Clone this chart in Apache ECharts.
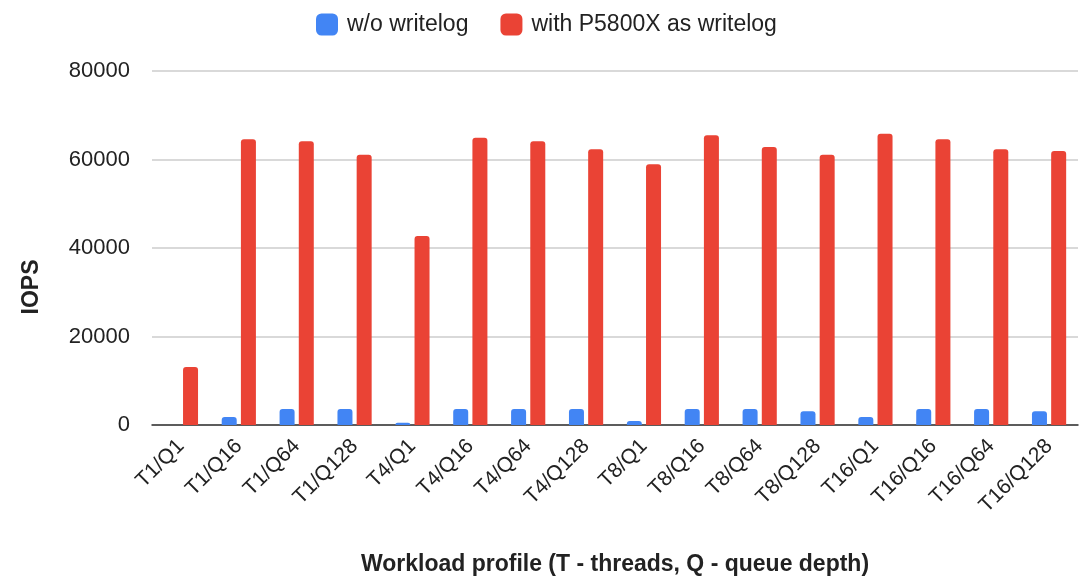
<!DOCTYPE html>
<html>
<head>
<meta charset="utf-8">
<script src="https://cdn.jsdelivr.net/npm/echarts@6/dist/echarts.min.js"></script>
<style>
  html, body { margin: 0; padding: 0; background: #fff; }
  #chart { width: 1081px; height: 581px; }
</style>
</head>
<body>
<div id="chart"></div>
<script>
const categories = ['T1/Q1', 'T1/Q16', 'T1/Q64', 'T1/Q128', 'T4/Q1', 'T4/Q16', 'T4/Q64', 'T4/Q128',
  'T8/Q1', 'T8/Q16', 'T8/Q64', 'T8/Q128', 'T16/Q1', 'T16/Q16', 'T16/Q64', 'T16/Q128'];
const withoutWritelog = [0, 1800, 3600, 3600, 500, 3600, 3600, 3600, 900, 3600, 3600, 3100, 1800, 3600, 3600, 3100];
const withP5800X = [13100, 64600, 64100, 61100, 42700, 64900, 64100, 62300, 58900, 65500, 62800, 61100, 65800, 64600, 62300, 61900];
const seriesNames = ['w/o writelog', 'with P5800X as writelog'];

const font = "Arial, 'Liberation Sans', sans-serif";
const chart = echarts.init(document.getElementById('chart'));

chart.setOption({
  animation: false,
  textStyle: { fontFamily: font },
  legend: {
    left: 311, top: 8,
    itemWidth: 22, itemHeight: 22, itemGap: 32,
    icon: 'roundRect',
    textStyle: { fontSize: 23, color: '#222', fontFamily: font, padding: [0, 0, 0, 4] },
    data: seriesNames
  },
  grid: { left: 152, right: 3, top: 71, bottom: 156, outerBoundsMode: 'none', containLabel: false },
  xAxis: {
    type: 'category',
    data: categories,
    name: 'Workload profile (T - threads, Q - queue depth)',
    nameLocation: 'middle',
    nameGap: 128,
    nameTextStyle: { fontSize: 23, fontWeight: 'bold', color: '#222', fontFamily: font },
    axisTick: { show: false },
    axisLine: { lineStyle: { color: '#333', width: 1.5 } },
    axisLabel: { rotate: 45, fontSize: 21, color: '#222', margin: 18, fontFamily: font, interval: 0 }
  },
  yAxis: {
    type: 'value',
    min: 0, max: 80000, interval: 20000,
    axisLabel: { fontSize: 22, color: '#222', margin: 22, fontFamily: font, formatter: v => String(v) },
    splitLine: { lineStyle: { color: '#cccccc', width: 1.5 } }
  },
  graphic: [{
    type: 'text',
    x: 32, y: 287,
    rotation: Math.PI / 2,
    style: {
      text: 'IOPS', fontSize: 23, fontWeight: 'bold', fill: '#222', fontFamily: font,
      align: 'center', verticalAlign: 'middle'
    }
  }],
  series: [
    {
      name: seriesNames[0], type: 'bar', data: withoutWritelog,
      barWidth: 15, barGap: '28%',
      itemStyle: { color: '#4285F4', borderRadius: [3, 3, 0, 0] }
    },
    {
      name: seriesNames[1], type: 'bar', data: withP5800X,
      barWidth: 15,
      itemStyle: { color: '#EA4335', borderRadius: [3, 3, 0, 0] }
    }
  ]
});
</script>
</body>
</html>
